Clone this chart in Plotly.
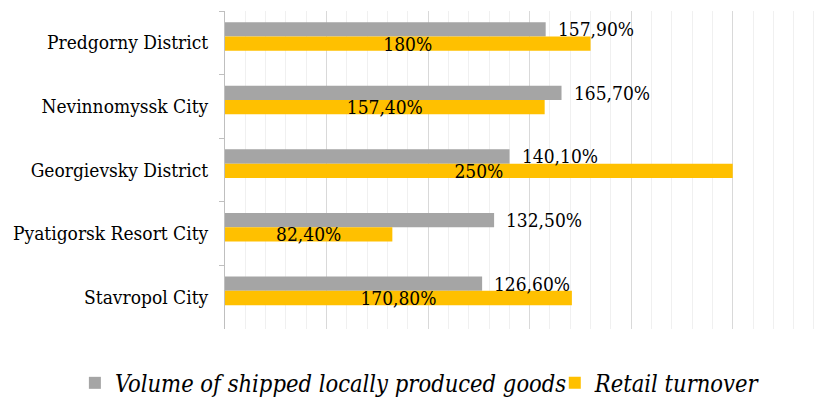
import plotly.graph_objects as go

# Districts, listed top to bottom as they appear on the chart
districts = [
    "Predgorny District",
    "Nevinnomyssk City",
    "Georgievsky District",
    "Pyatigorsk Resort City",
    "Stavropol City",
]
shipped_goods = [157.9, 165.7, 140.1, 132.5, 126.6]
retail_turnover = [180.0, 157.4, 250.0, 82.4, 170.8]

series_names = ["Volume of shipped locally produced goods", "Retail turnover"]


def pct_label(v):
    if float(v).is_integer():
        return f"{int(v)}%"
    return f"{v:.2f}".replace(".", ",") + "%"


SERIF = "DejaVu Serif Condensed, DejaVu Serif"
BAR_W = 0.225
GREY_OFF = -0.325
YELLOW_OFF = -0.1

fig = go.Figure()

fig.add_trace(go.Bar(
    name=series_names[0],
    y=districts,
    x=shipped_goods,
    orientation="h",
    marker=dict(color="#A5A5A5", line=dict(width=0)),
    width=BAR_W,
    offset=GREY_OFF,
    legend="legend",
))

fig.add_trace(go.Bar(
    name=series_names[1],
    y=districts,
    x=retail_turnover,
    orientation="h",
    marker=dict(color="#FFC000", line=dict(width=0)),
    width=BAR_W,
    offset=YELLOW_OFF,
    text=[pct_label(v) for v in retail_turnover],
    textposition="inside",
    insidetextanchor="middle",
    constraintext="none",
    cliponaxis=False,
    textfont=dict(family=SERIF, size=19, color="#000000"),
    legend="legend2",
))

# Value labels just past the end of each grey bar
band_px = (398 - 11 - 69) / len(districts)
grey_shift = -(GREY_OFF + BAR_W / 2) * band_px
annotations = [
    dict(
        x=v, y=d, xref="x", yref="y",
        text=pct_label(v), showarrow=False,
        xanchor="left", yanchor="middle",
        xshift=10, yshift=grey_shift,
        font=dict(family=SERIF, size=19, color="#000000"),
    )
    for d, v in zip(districts, shipped_goods)
]

legend_style = dict(
    orientation="h",
    xanchor="left",
    y=-0.17,
    yanchor="middle",
    font=dict(family=SERIF, size=23.5, color="#000000", style="italic"),
    itemclick=False,
    bgcolor="rgba(0,0,0,0)",
)

fig.update_layout(
    width=829,
    height=398,
    margin=dict(l=225, r=13, t=11, b=69, autoexpand=False),
    paper_bgcolor="white",
    plot_bgcolor="white",
    font=dict(family=SERIF),
    barmode="overlay",
    annotations=annotations,
    showlegend=True,
    legend=dict(x=-0.254, **legend_style),
    legend2=dict(x=0.558, **legend_style),
    xaxis=dict(
        range=[0, 291],
        showticklabels=False,
        ticks="",
        zeroline=False,
        showline=False,
        showgrid=True,
        dtick=50,
        gridcolor="#D9D9D9",
        gridwidth=1,
        minor=dict(dtick=10, showgrid=True, gridcolor="#F0F0F0", gridwidth=1),
    ),
    yaxis=dict(
        autorange="reversed",
        showline=True,
        linecolor="#BFBFBF",
        linewidth=1,
        ticks="outside",
        tickson="boundaries",
        ticklen=5,
        tickcolor="#BFBFBF",
        ticklabelstandoff=12,
        showgrid=False,
        tickfont=dict(family=SERIF, size=19, color="#000000"),
    ),
)

fig.write_html("out.html")
